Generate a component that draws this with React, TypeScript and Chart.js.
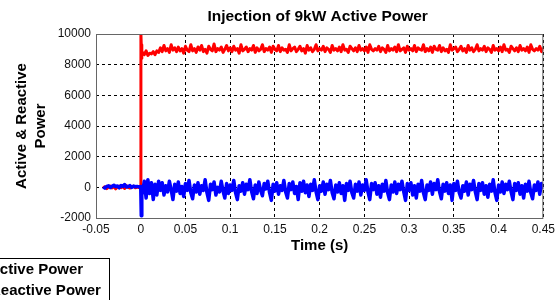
import React, { useEffect, useRef } from "react";
import { Chart, registerables } from "chart.js";

Chart.register(...registerables);

const xTickValues = [-0.05, 0, 0.05, 0.1, 0.15, 0.2, 0.25, 0.3, 0.35, 0.4, 0.45];
const xTickLabels = ["-0.05", "0", "0.05", "0.1", "0.15", "0.2", "0.25", "0.3", "0.35", "0.4", "0.45"];
const yTickValues = [-2000, 0, 2000, 4000, 6000, 8000, 10000];
const yTickLabels = ["-2000", "0", "2000", "4000", "6000", "8000", "10000"];
const legendLabels = ["Active Power", "Reactive Power"];

const preStart = -0.042;
const sampleStep = 0.002;
const activePre = [-60, 40, -80, 20, 90, -40, 60, -100, 30, 80, -20, 50, -70, 110, 0, -50, 40, 70, -30, 20, -10];
const reactivePre = [30, -50, 60, 100, -20, 70, 140, 40, 90, -30, 120, 60, 180, 20, 50, 110, -10, 80, 40, 60, 30];

const transientTimes = [0, 0.0002, 0.0006, 0.001, 0.0014];
const activeTransient = [30, 10000, 9300, 8400, 8700];
const reactiveTransient = [60, -600, -1850, -1200, -500];

const steadyStart = 0.002;
const activeSteady = [
  8800, 8650, 8900, 8600, 8750, 8700, 8850, 8650, 8900, 8800,
  9100, 8850, 9250, 8900, 9050, 8800, 9300, 8950, 9100, 8850,
  9150, 8900, 9050, 8750, 9200, 8950, 8850, 9300, 8900, 9050,
  8800, 9150, 8950, 9250, 8850, 9000, 8750, 9200, 9000, 8900,
  9350, 8850, 9050, 8950, 9150, 8800, 9000, 9250, 8900, 9100,
  8850, 9200, 8950, 9050, 8750, 9300, 8900, 9000, 9150, 8850,
  9050, 8950, 9250, 8800, 9100, 8900, 9000, 9300, 8850, 9050,
  8950, 9150, 8800, 9200, 9000, 8900, 9250, 8850, 9100, 8950,
  9000, 8800, 9300, 8900, 9050, 9150, 8850, 9000, 9200, 8900,
  9050, 8750, 9250, 8950, 9100, 8850, 9000, 9300, 8900, 9050,
  8950, 9200, 8850, 9100, 9000, 8800, 9250, 8950, 9050, 8900,
  9150, 8850, 9300, 8950, 9000, 8800, 9200, 9050, 8900, 9100,
  8850, 9250, 8950, 9050, 8900, 9150, 8800, 9300, 9000, 8900,
  9050, 8950, 9200, 8850, 9100, 9000, 8800, 9250, 8900, 9050,
  8950, 9150, 8850, 9300, 8900, 9000, 9100, 8800, 9200, 8950,
  9050, 8900, 9250, 8850, 9100, 9000, 8950, 9300, 8850, 9050,
  8900, 9150, 8800, 9200, 9000, 8950, 9250, 8850, 9100, 8900,
  9000, 8800, 9300, 8950, 9050, 9150, 8850, 9000, 9200, 8900,
  9050, 8800, 9250, 8950, 9100, 8850, 9000, 9300, 8900, 9050,
  8950, 9200, 8850, 9100, 9000, 8800, 9250, 8950, 9050, 8900,
  9150, 8850, 9300, 8950, 9000, 8800, 9200, 9050, 8900, 9100,
  8850, 9250, 8950, 9050, 8900, 9150, 8800, 9300, 9000, 8900,
  9050, 8950, 9200, 8850, 9100,
];
const reactiveSteady = [
  -300, 400, -700, 500, -400, 300, -800, 200, -500, 400,
  -200, 300, -500, 100, -300, 400, -150, -800, 200, -250,
  350, -400, 50, -600, 250, -200, 450, -350, -750, 150,
  -300, 300, -450, 100, -200, 500, -350, -850, 200, -150,
  350, -500, 0, -300, 400, -250, -700, 250, -400, 150,
  -200, 450, -350, -800, 100, -250, 300, -450, 200, -150,
  500, -300, -750, 150, -400, 350, -200, -550, 250, -100,
  400, -350, -850, 200, -250, 300, -450, 100, -200, 450,
  -300, -700, 250, -150, 350, -400, 50, -800, 300, -250,
  400, -350, 150, -600, 200, -200, 500, -300, -800, 100,
  -250, 350, -450, 200, -150, 450, -350, -750, 150, -300,
  300, -400, 100, -850, 250, -200, 400, -350, -700, 200,
  -250, 350, -500, 150, -200, 500, -300, -800, 250, -150,
  300, -450, 100, -650, 200, -250, 450, -350, -800, 150,
  -300, 350, -400, 200, -150, 400, -300, -850, 250, -200,
  300, -500, 100, -700, 200, -250, 450, -350, -800, 150,
  -200, 350, -450, 250, -150, 500, -300, -750, 200, -250,
  300, -400, 150, -850, 250, -200, 400, -350, -700, 100,
  -250, 350, -500, 200, -150, 450, -300, -800, 250, -200,
  300, -450, 100, -650, 200, -250, 500, -350, -850, 150,
  -300, 350, -400, 200, -150, 400, -300, -800, 250, -200,
  300, -450, 100, -700, 200, -250, 400, -350, -750, 150,
  -200, 350, -450, 250, -100,
];

const FONT = "'Liberation Sans', Arial, sans-serif";

function uniformPoints(start: number, step: number, values: number[]) {
  return values.map((v, i) => ({ x: start + i * step, y: v }));
}
function timedPoints(times: number[], values: number[]) {
  return values.map((v, i) => ({ x: times[i], y: v }));
}

const activeData = [
  ...uniformPoints(preStart, sampleStep, activePre),
  ...timedPoints(transientTimes, activeTransient),
  ...uniformPoints(steadyStart, sampleStep, activeSteady),
];
const reactiveData = [
  ...uniformPoints(preStart, sampleStep, reactivePre),
  ...timedPoints(transientTimes, reactiveTransient),
  ...uniformPoints(steadyStart, sampleStep, reactiveSteady),
];

const decorPlugin = {
  id: "decor",
  afterDraw(chart: any) {
    const { ctx, chartArea } = chart;
    const { left, right, top, bottom } = chartArea;
    ctx.save();
    // axes box
    ctx.strokeStyle = "#666";
    ctx.lineWidth = 1;
    ctx.setLineDash([]);
    ctx.strokeRect(left + 0.5, top + 0.5, right - left - 1, bottom - top);
    // title
    ctx.fillStyle = "#000";
    ctx.textAlign = "center";
    ctx.textBaseline = "middle";
    ctx.font = `bold 15.5px ${FONT}`;
    ctx.fillText("Injection of 9kW Active Power", (left + right) / 2 - 2, 17);
    // x title
    ctx.font = `bold 15px ${FONT}`;
    ctx.fillText("Time (s)", (left + right) / 2, 246);
    // y title
    const cy = (top + bottom) / 2;
    ctx.save();
    ctx.translate(22, cy);
    ctx.rotate(-Math.PI / 2);
    ctx.fillText("Active & Reactive", 0, 0);
    ctx.restore();
    ctx.save();
    ctx.translate(41, cy);
    ctx.rotate(-Math.PI / 2);
    ctx.fillText("Power", 0, 0);
    ctx.restore();
    // legend
    ctx.fillStyle = "#fff";
    ctx.fillRect(-20, 258, 130, 60);
    ctx.strokeStyle = "#000";
    ctx.strokeRect(-20.5, 258.5, 130, 60);
    ctx.fillStyle = "#000";
    ctx.textAlign = "left";
    ctx.font = `bold 15px ${FONT}`;
    ctx.fillText(legendLabels[0], -11, 270);
    ctx.fillText(legendLabels[1], -10, 291);
    ctx.restore();
  },
};

export default function App() {
  const canvasRef = useRef<HTMLCanvasElement | null>(null);

  useEffect(() => {
    document.body.style.margin = "0";
    const canvas = canvasRef.current;
    if (!canvas) return;
    const chart = new Chart(canvas, {
      type: "line",
      data: {
        datasets: [
          {
            label: legendLabels[1],
            data: reactiveData,
            borderColor: "#0000ff",
            backgroundColor: "#0000ff",
            borderWidth: 3.5,
            borderJoinStyle: "round",
            pointRadius: 0,
            tension: 0,
            order: 0,
          },
          {
            label: legendLabels[0],
            data: activeData,
            borderColor: "#ff0000",
            backgroundColor: "#ff0000",
            borderWidth: 3,
            borderJoinStyle: "round",
            pointRadius: 0,
            tension: 0,
            order: 1,
          },
        ],
      },
      options: {
        responsive: false,
        animation: false,
        events: [],
        layout: { padding: { top: 34, right: 14, left: 0, bottom: 0 } },
        plugins: {
          legend: { display: false },
          title: { display: false },
          tooltip: { enabled: false },
        },
        scales: {
          x: {
            type: "linear",
            min: -0.05,
            max: 0.45,
            afterBuildTicks: (s: any) => {
              s.ticks = xTickValues.map((v) => ({ value: v }));
            },
            afterFit: (s: any) => {
              s.height = 82;
            },
            ticks: {
              autoSkip: false,
              maxRotation: 0,
              padding: 4,
              color: "#111",
              font: { family: FONT, size: 12 },
              callback: (_v: any, i: number) => xTickLabels[i],
            },
            grid: { color: "#000", lineWidth: 1, drawTicks: false },
            border: { display: false, dash: [3, 3] },
          },
          y: {
            type: "linear",
            min: -2000,
            max: 10000,
            afterBuildTicks: (s: any) => {
              s.ticks = yTickValues.map((v) => ({ value: v }));
            },
            afterFit: (s: any) => {
              s.width = 96;
            },
            ticks: {
              autoSkip: false,
              padding: 5,
              color: "#111",
              font: { family: FONT, size: 12 },
              callback: (_v: any, i: number) => yTickLabels[i],
            },
            grid: { color: "#000", lineWidth: 1, drawTicks: false },
            border: { display: false, dash: [3, 3] },
          },
        },
      },
      plugins: [decorPlugin],
    });
    return () => chart.destroy();
  }, []);

  return (
    <div style={{ width: 559, height: 300, background: "#fff" }}>
      <canvas ref={canvasRef} width={559} height={300} style={{ display: "block" }} />
    </div>
  );
}
